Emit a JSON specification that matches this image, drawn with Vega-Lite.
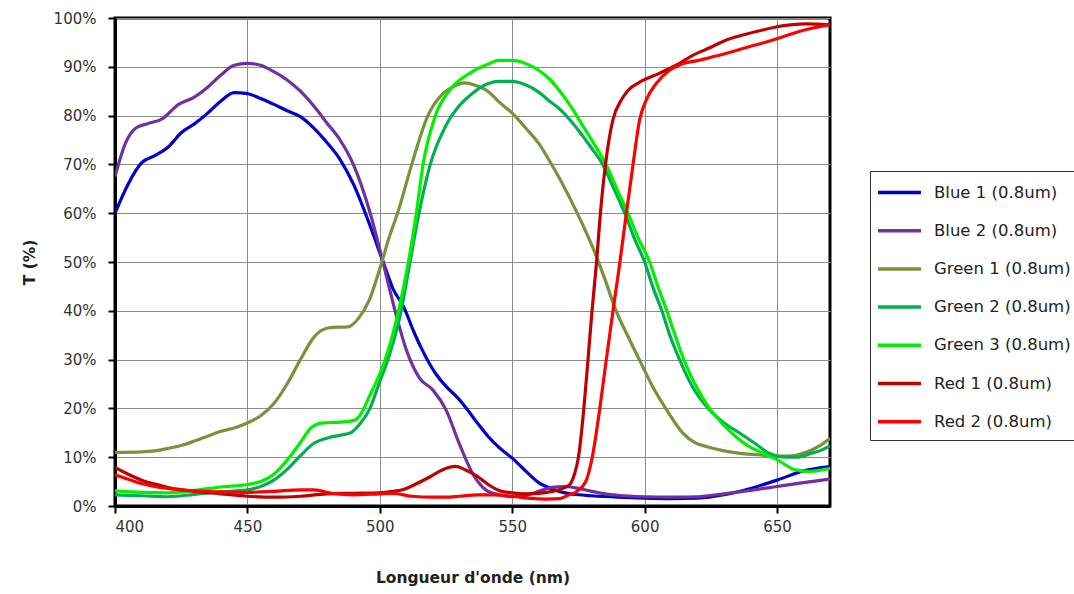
{
  "$schema": "https://vega.github.io/schema/vega-lite/v6.json",
  "width": 715,
  "height": 488,
  "autosize": {"type": "none"},
  "padding": {"left": 115, "top": 18, "right": 244, "bottom": 88},
  "background": "white",
  "config": {
    "view": {"stroke": "black", "strokeWidth": 3},
    "font": "DejaVu Sans"
  },
  "data": {
    "values": [
      {"s":"Blue 1 (0.8um)","nm":400,"T":60},{"s":"Blue 1 (0.8um)","nm":405,"T":66},{"s":"Blue 1 (0.8um)","nm":410,"T":70.3},{"s":"Blue 1 (0.8um)","nm":415,"T":71.8},{"s":"Blue 1 (0.8um)","nm":420,"T":73.5},{"s":"Blue 1 (0.8um)","nm":425,"T":76.5},{"s":"Blue 1 (0.8um)","nm":430,"T":78.3},{"s":"Blue 1 (0.8um)","nm":435,"T":80.5},{"s":"Blue 1 (0.8um)","nm":440,"T":83},{"s":"Blue 1 (0.8um)","nm":445,"T":84.7},{"s":"Blue 1 (0.8um)","nm":450,"T":84.5},{"s":"Blue 1 (0.8um)","nm":455,"T":83.5},{"s":"Blue 1 (0.8um)","nm":460,"T":82.3},{"s":"Blue 1 (0.8um)","nm":465,"T":81},{"s":"Blue 1 (0.8um)","nm":470,"T":79.8},{"s":"Blue 1 (0.8um)","nm":475,"T":77.5},{"s":"Blue 1 (0.8um)","nm":480,"T":74.5},{"s":"Blue 1 (0.8um)","nm":485,"T":71},{"s":"Blue 1 (0.8um)","nm":490,"T":66},{"s":"Blue 1 (0.8um)","nm":496,"T":57.9},{"s":"Blue 1 (0.8um)","nm":501,"T":50.4},{"s":"Blue 1 (0.8um)","nm":505,"T":44.5},{"s":"Blue 1 (0.8um)","nm":509,"T":40.8},{"s":"Blue 1 (0.8um)","nm":513,"T":35.5},{"s":"Blue 1 (0.8um)","nm":516,"T":32},{"s":"Blue 1 (0.8um)","nm":521,"T":27.2},{"s":"Blue 1 (0.8um)","nm":525,"T":24.5},{"s":"Blue 1 (0.8um)","nm":529,"T":22.4},{"s":"Blue 1 (0.8um)","nm":532,"T":20.5},{"s":"Blue 1 (0.8um)","nm":536,"T":17.6},{"s":"Blue 1 (0.8um)","nm":541,"T":14.2},{"s":"Blue 1 (0.8um)","nm":545,"T":12},{"s":"Blue 1 (0.8um)","nm":550,"T":9.8},{"s":"Blue 1 (0.8um)","nm":555,"T":7.2},{"s":"Blue 1 (0.8um)","nm":560,"T":4.8},{"s":"Blue 1 (0.8um)","nm":565,"T":3.5},{"s":"Blue 1 (0.8um)","nm":570,"T":2.7},{"s":"Blue 1 (0.8um)","nm":575,"T":2.3},{"s":"Blue 1 (0.8um)","nm":580,"T":2.1},{"s":"Blue 1 (0.8um)","nm":590,"T":1.8},{"s":"Blue 1 (0.8um)","nm":600,"T":1.6},{"s":"Blue 1 (0.8um)","nm":610,"T":1.5},{"s":"Blue 1 (0.8um)","nm":620,"T":1.6},{"s":"Blue 1 (0.8um)","nm":630,"T":2.3},{"s":"Blue 1 (0.8um)","nm":640,"T":3.6},{"s":"Blue 1 (0.8um)","nm":650,"T":5.3},{"s":"Blue 1 (0.8um)","nm":660,"T":7.2},{"s":"Blue 1 (0.8um)","nm":670,"T":8.1},

      {"s":"Blue 2 (0.8um)","nm":400,"T":67.5},{"s":"Blue 2 (0.8um)","nm":404,"T":74.4},{"s":"Blue 2 (0.8um)","nm":408,"T":77.5},{"s":"Blue 2 (0.8um)","nm":412,"T":78.3},{"s":"Blue 2 (0.8um)","nm":418,"T":79.4},{"s":"Blue 2 (0.8um)","nm":424,"T":82.3},{"s":"Blue 2 (0.8um)","nm":430,"T":83.8},{"s":"Blue 2 (0.8um)","nm":435,"T":85.8},{"s":"Blue 2 (0.8um)","nm":440,"T":88.3},{"s":"Blue 2 (0.8um)","nm":445,"T":90.3},{"s":"Blue 2 (0.8um)","nm":450,"T":90.7},{"s":"Blue 2 (0.8um)","nm":455,"T":90.3},{"s":"Blue 2 (0.8um)","nm":460,"T":89},{"s":"Blue 2 (0.8um)","nm":465,"T":87.3},{"s":"Blue 2 (0.8um)","nm":470,"T":85},{"s":"Blue 2 (0.8um)","nm":475,"T":82},{"s":"Blue 2 (0.8um)","nm":480,"T":78.5},{"s":"Blue 2 (0.8um)","nm":485,"T":75},{"s":"Blue 2 (0.8um)","nm":490,"T":70},{"s":"Blue 2 (0.8um)","nm":496,"T":60.7},{"s":"Blue 2 (0.8um)","nm":501,"T":50.4},{"s":"Blue 2 (0.8um)","nm":506,"T":39.5},{"s":"Blue 2 (0.8um)","nm":510,"T":32},{"s":"Blue 2 (0.8um)","nm":515,"T":26.2},{"s":"Blue 2 (0.8um)","nm":520,"T":23.8},{"s":"Blue 2 (0.8um)","nm":525,"T":19.7},{"s":"Blue 2 (0.8um)","nm":530,"T":12.8},{"s":"Blue 2 (0.8um)","nm":535,"T":6.7},{"s":"Blue 2 (0.8um)","nm":540,"T":3.3},{"s":"Blue 2 (0.8um)","nm":545,"T":2.3},{"s":"Blue 2 (0.8um)","nm":550,"T":1.9},{"s":"Blue 2 (0.8um)","nm":555,"T":2.1},{"s":"Blue 2 (0.8um)","nm":560,"T":3},{"s":"Blue 2 (0.8um)","nm":565,"T":3.8},{"s":"Blue 2 (0.8um)","nm":570,"T":4},{"s":"Blue 2 (0.8um)","nm":575,"T":3.6},{"s":"Blue 2 (0.8um)","nm":580,"T":3},{"s":"Blue 2 (0.8um)","nm":585,"T":2.5},{"s":"Blue 2 (0.8um)","nm":590,"T":2.2},{"s":"Blue 2 (0.8um)","nm":600,"T":1.9},{"s":"Blue 2 (0.8um)","nm":610,"T":1.8},{"s":"Blue 2 (0.8um)","nm":620,"T":1.9},{"s":"Blue 2 (0.8um)","nm":630,"T":2.5},{"s":"Blue 2 (0.8um)","nm":640,"T":3.2},{"s":"Blue 2 (0.8um)","nm":650,"T":4},{"s":"Blue 2 (0.8um)","nm":660,"T":4.8},{"s":"Blue 2 (0.8um)","nm":670,"T":5.5},

      {"s":"Green 1 (0.8um)","nm":400,"T":11},{"s":"Green 1 (0.8um)","nm":410,"T":11.1},{"s":"Green 1 (0.8um)","nm":415,"T":11.3},{"s":"Green 1 (0.8um)","nm":420,"T":11.8},{"s":"Green 1 (0.8um)","nm":425,"T":12.4},{"s":"Green 1 (0.8um)","nm":430,"T":13.3},{"s":"Green 1 (0.8um)","nm":435,"T":14.3},{"s":"Green 1 (0.8um)","nm":440,"T":15.3},{"s":"Green 1 (0.8um)","nm":445,"T":16},{"s":"Green 1 (0.8um)","nm":450,"T":17},{"s":"Green 1 (0.8um)","nm":455,"T":18.5},{"s":"Green 1 (0.8um)","nm":460,"T":21},{"s":"Green 1 (0.8um)","nm":465,"T":25},{"s":"Green 1 (0.8um)","nm":470,"T":30},{"s":"Green 1 (0.8um)","nm":475,"T":34.5},{"s":"Green 1 (0.8um)","nm":478,"T":36},{"s":"Green 1 (0.8um)","nm":482,"T":36.6},{"s":"Green 1 (0.8um)","nm":488,"T":36.7},{"s":"Green 1 (0.8um)","nm":492,"T":38.5},{"s":"Green 1 (0.8um)","nm":496,"T":42.2},{"s":"Green 1 (0.8um)","nm":500.6,"T":49.7},{"s":"Green 1 (0.8um)","nm":503.5,"T":55},{"s":"Green 1 (0.8um)","nm":507,"T":60.5},{"s":"Green 1 (0.8um)","nm":512,"T":69.9},{"s":"Green 1 (0.8um)","nm":518,"T":79.8},{"s":"Green 1 (0.8um)","nm":524,"T":84.6},{"s":"Green 1 (0.8um)","nm":528,"T":86},{"s":"Green 1 (0.8um)","nm":532,"T":86.7},{"s":"Green 1 (0.8um)","nm":536,"T":86.2},{"s":"Green 1 (0.8um)","nm":541,"T":84.9},{"s":"Green 1 (0.8um)","nm":545,"T":82.8},{"s":"Green 1 (0.8um)","nm":550,"T":80.5},{"s":"Green 1 (0.8um)","nm":555,"T":77.5},{"s":"Green 1 (0.8um)","nm":560,"T":74.3},{"s":"Green 1 (0.8um)","nm":564,"T":70.8},{"s":"Green 1 (0.8um)","nm":568,"T":67},{"s":"Green 1 (0.8um)","nm":575,"T":59.5},{"s":"Green 1 (0.8um)","nm":580,"T":53.5},{"s":"Green 1 (0.8um)","nm":585,"T":46.5},{"s":"Green 1 (0.8um)","nm":589,"T":40.3},{"s":"Green 1 (0.8um)","nm":593.5,"T":35},{"s":"Green 1 (0.8um)","nm":598,"T":30},{"s":"Green 1 (0.8um)","nm":603,"T":24.5},{"s":"Green 1 (0.8um)","nm":608.2,"T":19.8},{"s":"Green 1 (0.8um)","nm":614.5,"T":14.9},{"s":"Green 1 (0.8um)","nm":619,"T":13},{"s":"Green 1 (0.8um)","nm":623.3,"T":12.2},{"s":"Green 1 (0.8um)","nm":630,"T":11.3},{"s":"Green 1 (0.8um)","nm":636,"T":10.8},{"s":"Green 1 (0.8um)","nm":643,"T":10.5},{"s":"Green 1 (0.8um)","nm":650,"T":10.2},{"s":"Green 1 (0.8um)","nm":656,"T":10.3},{"s":"Green 1 (0.8um)","nm":661,"T":11},{"s":"Green 1 (0.8um)","nm":666,"T":12.3},{"s":"Green 1 (0.8um)","nm":670,"T":13.9},

      {"s":"Green 2 (0.8um)","nm":400,"T":2.3},{"s":"Green 2 (0.8um)","nm":410,"T":2.1},{"s":"Green 2 (0.8um)","nm":420,"T":1.9},{"s":"Green 2 (0.8um)","nm":430,"T":2.4},{"s":"Green 2 (0.8um)","nm":440,"T":2.9},{"s":"Green 2 (0.8um)","nm":450,"T":3.3},{"s":"Green 2 (0.8um)","nm":455,"T":4},{"s":"Green 2 (0.8um)","nm":460,"T":5.3},{"s":"Green 2 (0.8um)","nm":465,"T":7.5},{"s":"Green 2 (0.8um)","nm":470,"T":10.3},{"s":"Green 2 (0.8um)","nm":475,"T":12.8},{"s":"Green 2 (0.8um)","nm":480,"T":13.9},{"s":"Green 2 (0.8um)","nm":485,"T":14.5},{"s":"Green 2 (0.8um)","nm":489,"T":15},{"s":"Green 2 (0.8um)","nm":492,"T":16.5},{"s":"Green 2 (0.8um)","nm":496,"T":19.7},{"s":"Green 2 (0.8um)","nm":500,"T":25.5},{"s":"Green 2 (0.8um)","nm":503,"T":29.9},{"s":"Green 2 (0.8um)","nm":508,"T":39.8},{"s":"Green 2 (0.8um)","nm":511.3,"T":49.7},{"s":"Green 2 (0.8um)","nm":514.8,"T":60},{"s":"Green 2 (0.8um)","nm":519,"T":69.9},{"s":"Green 2 (0.8um)","nm":525,"T":78},{"s":"Green 2 (0.8um)","nm":530,"T":82},{"s":"Green 2 (0.8um)","nm":535,"T":84.6},{"s":"Green 2 (0.8um)","nm":541,"T":86.6},{"s":"Green 2 (0.8um)","nm":545,"T":87},{"s":"Green 2 (0.8um)","nm":550,"T":87},{"s":"Green 2 (0.8um)","nm":555,"T":86.3},{"s":"Green 2 (0.8um)","nm":560,"T":84.8},{"s":"Green 2 (0.8um)","nm":564,"T":83},{"s":"Green 2 (0.8um)","nm":568,"T":81.3},{"s":"Green 2 (0.8um)","nm":572,"T":79},{"s":"Green 2 (0.8um)","nm":576,"T":76.3},{"s":"Green 2 (0.8um)","nm":580,"T":73.3},{"s":"Green 2 (0.8um)","nm":584.3,"T":69.9},{"s":"Green 2 (0.8um)","nm":588,"T":65.5},{"s":"Green 2 (0.8um)","nm":592.5,"T":60},{"s":"Green 2 (0.8um)","nm":596,"T":55},{"s":"Green 2 (0.8um)","nm":600,"T":50},{"s":"Green 2 (0.8um)","nm":603,"T":45},{"s":"Green 2 (0.8um)","nm":606.5,"T":40},{"s":"Green 2 (0.8um)","nm":609.5,"T":35},{"s":"Green 2 (0.8um)","nm":613.2,"T":30},{"s":"Green 2 (0.8um)","nm":618,"T":24.5},{"s":"Green 2 (0.8um)","nm":624,"T":20},{"s":"Green 2 (0.8um)","nm":630,"T":17},{"s":"Green 2 (0.8um)","nm":636,"T":14.9},{"s":"Green 2 (0.8um)","nm":642,"T":12.7},{"s":"Green 2 (0.8um)","nm":647,"T":10.8},{"s":"Green 2 (0.8um)","nm":653.5,"T":10},{"s":"Green 2 (0.8um)","nm":658,"T":10},{"s":"Green 2 (0.8um)","nm":663,"T":10.8},{"s":"Green 2 (0.8um)","nm":667,"T":11.5},{"s":"Green 2 (0.8um)","nm":670,"T":12.3},

      {"s":"Green 3 (0.8um)","nm":400,"T":3.1},{"s":"Green 3 (0.8um)","nm":410,"T":2.8},{"s":"Green 3 (0.8um)","nm":420,"T":2.7},{"s":"Green 3 (0.8um)","nm":430,"T":3.2},{"s":"Green 3 (0.8um)","nm":440,"T":3.9},{"s":"Green 3 (0.8um)","nm":450,"T":4.4},{"s":"Green 3 (0.8um)","nm":455,"T":5},{"s":"Green 3 (0.8um)","nm":460,"T":6.5},{"s":"Green 3 (0.8um)","nm":465,"T":9.4},{"s":"Green 3 (0.8um)","nm":470,"T":13},{"s":"Green 3 (0.8um)","nm":474,"T":16},{"s":"Green 3 (0.8um)","nm":478,"T":17},{"s":"Green 3 (0.8um)","nm":485,"T":17.2},{"s":"Green 3 (0.8um)","nm":490,"T":17.5},{"s":"Green 3 (0.8um)","nm":493,"T":19},{"s":"Green 3 (0.8um)","nm":496,"T":22.4},{"s":"Green 3 (0.8um)","nm":502,"T":29.9},{"s":"Green 3 (0.8um)","nm":507,"T":39.8},{"s":"Green 3 (0.8um)","nm":510.7,"T":49.7},{"s":"Green 3 (0.8um)","nm":513.8,"T":60},{"s":"Green 3 (0.8um)","nm":516.3,"T":69.9},{"s":"Green 3 (0.8um)","nm":520.8,"T":79.7},{"s":"Green 3 (0.8um)","nm":526.4,"T":85.2},{"s":"Green 3 (0.8um)","nm":534,"T":88.7},{"s":"Green 3 (0.8um)","nm":541.5,"T":90.7},{"s":"Green 3 (0.8um)","nm":545,"T":91.3},{"s":"Green 3 (0.8um)","nm":550,"T":91.3},{"s":"Green 3 (0.8um)","nm":555,"T":90.7},{"s":"Green 3 (0.8um)","nm":560,"T":89.3},{"s":"Green 3 (0.8um)","nm":564,"T":87.5},{"s":"Green 3 (0.8um)","nm":568,"T":85},{"s":"Green 3 (0.8um)","nm":572,"T":82},{"s":"Green 3 (0.8um)","nm":576,"T":78.5},{"s":"Green 3 (0.8um)","nm":580,"T":75},{"s":"Green 3 (0.8um)","nm":585.5,"T":69.9},{"s":"Green 3 (0.8um)","nm":589.5,"T":65},{"s":"Green 3 (0.8um)","nm":593.7,"T":60},{"s":"Green 3 (0.8um)","nm":597.5,"T":55},{"s":"Green 3 (0.8um)","nm":601.9,"T":50},{"s":"Green 3 (0.8um)","nm":605,"T":45},{"s":"Green 3 (0.8um)","nm":608.4,"T":40},{"s":"Green 3 (0.8um)","nm":611.5,"T":35},{"s":"Green 3 (0.8um)","nm":614.8,"T":30},{"s":"Green 3 (0.8um)","nm":619,"T":25},{"s":"Green 3 (0.8um)","nm":624.5,"T":20},{"s":"Green 3 (0.8um)","nm":630,"T":16.5},{"s":"Green 3 (0.8um)","nm":636,"T":13.5},{"s":"Green 3 (0.8um)","nm":640,"T":12},{"s":"Green 3 (0.8um)","nm":644.7,"T":10.8},{"s":"Green 3 (0.8um)","nm":650,"T":9.5},{"s":"Green 3 (0.8um)","nm":657,"T":7.4},{"s":"Green 3 (0.8um)","nm":662,"T":7.1},{"s":"Green 3 (0.8um)","nm":666,"T":7.3},{"s":"Green 3 (0.8um)","nm":670,"T":7.7},

      {"s":"Red 1 (0.8um)","nm":400,"T":7.9},{"s":"Red 1 (0.8um)","nm":405,"T":6.5},{"s":"Red 1 (0.8um)","nm":410,"T":5.3},{"s":"Red 1 (0.8um)","nm":415,"T":4.5},{"s":"Red 1 (0.8um)","nm":420,"T":3.8},{"s":"Red 1 (0.8um)","nm":425,"T":3.3},{"s":"Red 1 (0.8um)","nm":430,"T":3},{"s":"Red 1 (0.8um)","nm":440,"T":2.5},{"s":"Red 1 (0.8um)","nm":450,"T":2},{"s":"Red 1 (0.8um)","nm":460,"T":1.8},{"s":"Red 1 (0.8um)","nm":470,"T":2},{"s":"Red 1 (0.8um)","nm":480,"T":2.5},{"s":"Red 1 (0.8um)","nm":490,"T":2.6},{"s":"Red 1 (0.8um)","nm":500,"T":2.7},{"s":"Red 1 (0.8um)","nm":505,"T":3},{"s":"Red 1 (0.8um)","nm":509,"T":3.4},{"s":"Red 1 (0.8um)","nm":514,"T":4.6},{"s":"Red 1 (0.8um)","nm":519,"T":6},{"s":"Red 1 (0.8um)","nm":524,"T":7.5},{"s":"Red 1 (0.8um)","nm":528.5,"T":8.1},{"s":"Red 1 (0.8um)","nm":532,"T":7.5},{"s":"Red 1 (0.8um)","nm":536.5,"T":6.2},{"s":"Red 1 (0.8um)","nm":541.5,"T":4.2},{"s":"Red 1 (0.8um)","nm":545,"T":3.2},{"s":"Red 1 (0.8um)","nm":550,"T":2.7},{"s":"Red 1 (0.8um)","nm":555,"T":2.5},{"s":"Red 1 (0.8um)","nm":560,"T":2.6},{"s":"Red 1 (0.8um)","nm":565,"T":3},{"s":"Red 1 (0.8um)","nm":568,"T":3.4},{"s":"Red 1 (0.8um)","nm":571.7,"T":4.4},{"s":"Red 1 (0.8um)","nm":573.6,"T":6.7},{"s":"Red 1 (0.8um)","nm":575,"T":10},{"s":"Red 1 (0.8um)","nm":577,"T":19.7},{"s":"Red 1 (0.8um)","nm":578.6,"T":29.9},{"s":"Red 1 (0.8um)","nm":580.1,"T":39.8},{"s":"Red 1 (0.8um)","nm":581.8,"T":49.7},{"s":"Red 1 (0.8um)","nm":583.3,"T":60},{"s":"Red 1 (0.8um)","nm":585.2,"T":69.9},{"s":"Red 1 (0.8um)","nm":588,"T":79.1},{"s":"Red 1 (0.8um)","nm":591.2,"T":83.2},{"s":"Red 1 (0.8um)","nm":594,"T":85.3},{"s":"Red 1 (0.8um)","nm":598,"T":86.8},{"s":"Red 1 (0.8um)","nm":605.7,"T":88.7},{"s":"Red 1 (0.8um)","nm":613.2,"T":90.7},{"s":"Red 1 (0.8um)","nm":618,"T":92.3},{"s":"Red 1 (0.8um)","nm":625,"T":94},{"s":"Red 1 (0.8um)","nm":630,"T":95.3},{"s":"Red 1 (0.8um)","nm":637,"T":96.5},{"s":"Red 1 (0.8um)","nm":645,"T":97.6},{"s":"Red 1 (0.8um)","nm":650,"T":98.2},{"s":"Red 1 (0.8um)","nm":655,"T":98.6},{"s":"Red 1 (0.8um)","nm":661,"T":98.8},{"s":"Red 1 (0.8um)","nm":670,"T":98.6},

      {"s":"Red 2 (0.8um)","nm":400,"T":6.4},{"s":"Red 2 (0.8um)","nm":405,"T":5.5},{"s":"Red 2 (0.8um)","nm":410,"T":4.6},{"s":"Red 2 (0.8um)","nm":415,"T":4},{"s":"Red 2 (0.8um)","nm":420,"T":3.6},{"s":"Red 2 (0.8um)","nm":430,"T":3.1},{"s":"Red 2 (0.8um)","nm":440,"T":2.9},{"s":"Red 2 (0.8um)","nm":450,"T":2.8},{"s":"Red 2 (0.8um)","nm":460,"T":3},{"s":"Red 2 (0.8um)","nm":470,"T":3.3},{"s":"Red 2 (0.8um)","nm":475,"T":3.3},{"s":"Red 2 (0.8um)","nm":482,"T":2.6},{"s":"Red 2 (0.8um)","nm":490,"T":2.3},{"s":"Red 2 (0.8um)","nm":500,"T":2.5},{"s":"Red 2 (0.8um)","nm":505,"T":2.6},{"s":"Red 2 (0.8um)","nm":512,"T":2},{"s":"Red 2 (0.8um)","nm":520,"T":1.8},{"s":"Red 2 (0.8um)","nm":525,"T":1.8},{"s":"Red 2 (0.8um)","nm":530,"T":2},{"s":"Red 2 (0.8um)","nm":537,"T":2.3},{"s":"Red 2 (0.8um)","nm":543,"T":2.3},{"s":"Red 2 (0.8um)","nm":550,"T":2},{"s":"Red 2 (0.8um)","nm":556,"T":1.6},{"s":"Red 2 (0.8um)","nm":563,"T":1.4},{"s":"Red 2 (0.8um)","nm":568,"T":1.5},{"s":"Red 2 (0.8um)","nm":571,"T":2.2},{"s":"Red 2 (0.8um)","nm":574.2,"T":2.9},{"s":"Red 2 (0.8um)","nm":578,"T":5.3},{"s":"Red 2 (0.8um)","nm":580.5,"T":10.8},{"s":"Red 2 (0.8um)","nm":583,"T":19.7},{"s":"Red 2 (0.8um)","nm":585.5,"T":29.9},{"s":"Red 2 (0.8um)","nm":588,"T":39.8},{"s":"Red 2 (0.8um)","nm":590.6,"T":49.7},{"s":"Red 2 (0.8um)","nm":593.1,"T":60},{"s":"Red 2 (0.8um)","nm":595.6,"T":69.9},{"s":"Red 2 (0.8um)","nm":598.1,"T":79.1},{"s":"Red 2 (0.8um)","nm":600.6,"T":83.2},{"s":"Red 2 (0.8um)","nm":604.4,"T":86.6},{"s":"Red 2 (0.8um)","nm":609.4,"T":89.3},{"s":"Red 2 (0.8um)","nm":613.2,"T":90.4},{"s":"Red 2 (0.8um)","nm":621,"T":91.4},{"s":"Red 2 (0.8um)","nm":627,"T":92.2},{"s":"Red 2 (0.8um)","nm":633,"T":93.1},{"s":"Red 2 (0.8um)","nm":640,"T":94.2},{"s":"Red 2 (0.8um)","nm":646,"T":95.1},{"s":"Red 2 (0.8um)","nm":652,"T":96.1},{"s":"Red 2 (0.8um)","nm":658,"T":97.2},{"s":"Red 2 (0.8um)","nm":664,"T":98},{"s":"Red 2 (0.8um)","nm":670,"T":98.6}
    ]
  },
  "mark": {"type": "line", "interpolate": "monotone", "strokeWidth": 3.2, "clip": true},
  "encoding": {
    "x": {
      "field": "nm", "type": "quantitative",
      "scale": {"domain": [400, 670], "nice": false, "zero": false},
      "axis": {
        "title": "Longueur d'onde (nm)",
        "values": [400, 450, 500, 550, 600, 650],
        "grid": true, "gridColor": "#8c8c8c", "gridWidth": 1, "gridOpacity": 1,
        "domainColor": "black", "domainWidth": 3,
        "tickColor": "black", "tickWidth": 2, "tickSize": 7,
        "labelFont": "DejaVu Sans", "labelFontSize": 15, "labelColor": "#333333", "labelPadding": 6,
        "titleFont": "DejaVu Sans", "titleFontSize": 15.5, "titleFontWeight": "bold", "titleColor": "#222222", "titlePadding": 36
      }
    },
    "y": {
      "field": "T", "type": "quantitative",
      "scale": {"domain": [0, 100], "nice": false},
      "axis": {
        "title": "T (%)",
        "values": [0, 10, 20, 30, 40, 50, 60, 70, 80, 90, 100],
        "labelExpr": "datum.value + '%'",
        "grid": true, "gridColor": "#8c8c8c", "gridWidth": 1, "gridOpacity": 1,
        "domainColor": "black", "domainWidth": 3,
        "tickColor": "black", "tickWidth": 2, "tickSize": 7,
        "labelFont": "DejaVu Sans", "labelFontSize": 15, "labelColor": "#333333", "labelPadding": 12,
        "titleFont": "DejaVu Sans", "titleFontSize": 15.5, "titleFontWeight": "bold", "titleColor": "#222222", "titlePadding": 16
      }
    },
    "color": {
      "field": "s", "type": "nominal",
      "scale": {
        "domain": ["Blue 1 (0.8um)", "Blue 2 (0.8um)", "Green 1 (0.8um)", "Green 2 (0.8um)", "Green 3 (0.8um)", "Red 1 (0.8um)", "Red 2 (0.8um)"],
        "range": ["#0000C8", "#7030A0", "#77933C", "#00B050", "#00F000", "#C00000", "#FF0000"]
      },
      "legend": {
        "title": null,
        "orient": "none",
        "legendX": 755,
        "legendY": 153,
        "strokeColor": "#333333",
        "fillColor": "white",
        "padding": 9,
        "symbolType": "M-2,0L2,0",
        "symbolSize": 462,
        "symbolStrokeWidth": 3.5,
        "symbolOffset": 8,
        "labelFont": "DejaVu Sans",
        "labelFontSize": 16.5,
        "labelColor": "#222222",
        "labelOffset": 22,
        "labelLimit": 300,
        "rowPadding": 17.2
      }
    }
  }
}
